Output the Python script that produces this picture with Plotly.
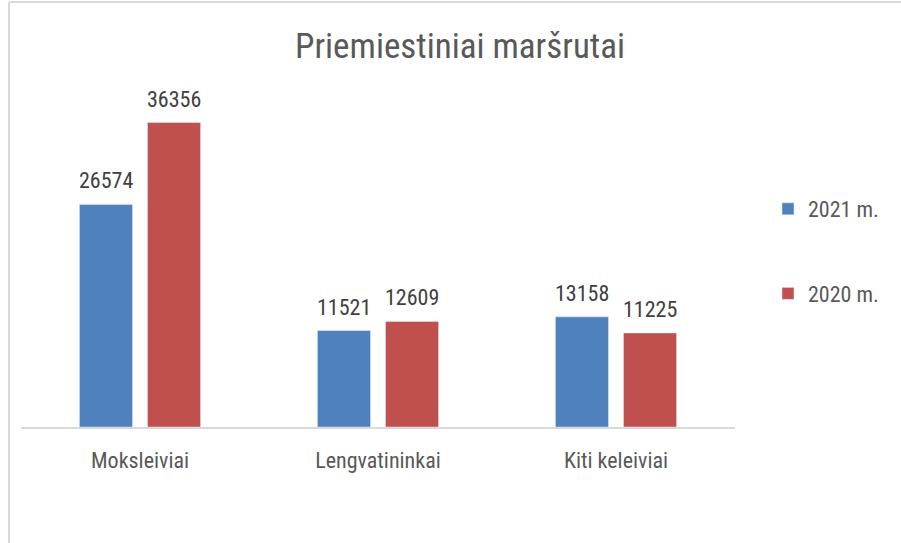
import plotly.graph_objects as go

categories = ["Moksleiviai", "Lengvatininkai", "Kiti keleiviai"]
values_2021 = [26574, 11521, 13158]
values_2020 = [36356, 12609, 11225]
series_names = ["2021 m.", "2020 m."]
title_text = "Priemiestiniai maršrutai"

FONT = "Liberation Sans Narrow, Roboto Condensed, Roboto, sans-serif"
BLUE = "#4F81BD"
RED = "#C0504D"

W, H = 901, 543
ML, MR, MT, MB = 21, 166, 92, 116
PW = W - ML - MR
PH = H - MT - MB
BASE = H - MB  # pixel y of axis line

fig = go.Figure()
fig.add_trace(go.Bar(x=categories, y=values_2021, name=series_names[0],
                     marker_color=BLUE, legendgroup="a"))
fig.add_trace(go.Bar(x=categories, y=values_2020, name=series_names[1],
                     marker_color=RED, legendgroup="b"))

annotations = []
for vals, shift in ((values_2021, -34), (values_2020, 34)):
    for c, v in zip(categories, vals):
        annotations.append(dict(x=c, y=v, xref="x", yref="y", text=str(v),
                                showarrow=False, xshift=shift, yshift=9,
                                yanchor="bottom",
                                font=dict(family=FONT, size=22, color="#404040")))

top_y = (BASE - 2) / PH
left_x = (9 - ML) / PW
shapes = [
    dict(type="line", xref="paper", yref="paper",
         x0=left_x, x1=(W - ML) / PW, y0=top_y, y1=top_y,
         line=dict(color="#D9D9D9", width=2)),
    dict(type="line", xref="paper", yref="paper",
         x0=left_x, x1=left_x, y0=-MB / PH, y1=top_y,
         line=dict(color="#D9D9D9", width=2)),
]

fig.update_layout(
    width=W, height=H,
    margin=dict(l=ML, r=MR, t=MT, b=MB),
    paper_bgcolor="white", plot_bgcolor="white",
    title=dict(text=title_text, x=460 / W, xanchor="center", y=1 - 46 / H,
               yanchor="middle",
               font=dict(family=FONT, size=35, color="#595959")),
    barmode="group", bargap=0.428, bargroupgap=0.22,
    xaxis=dict(showline=True, linecolor="#D9D9D9", linewidth=2, ticks="",
               tickfont=dict(family=FONT, size=22, color="#595959"),
               ticklabelstandoff=13),
    yaxis=dict(visible=False, range=[0, 40000], showgrid=False, zeroline=False),
    legend=dict(x=(768 - ML) / PW, xanchor="left", y=(BASE - 188) / PH, yanchor="top",
                traceorder="grouped", tracegroupgap=53,
                font=dict(family=FONT, size=22, color="#595959"),
                itemwidth=30),
    annotations=annotations,
    shapes=shapes,
    showlegend=True,
)

fig.write_html("out.html", config={"displayModeBar": False},
               post_script="document.body.style.margin='0';")
